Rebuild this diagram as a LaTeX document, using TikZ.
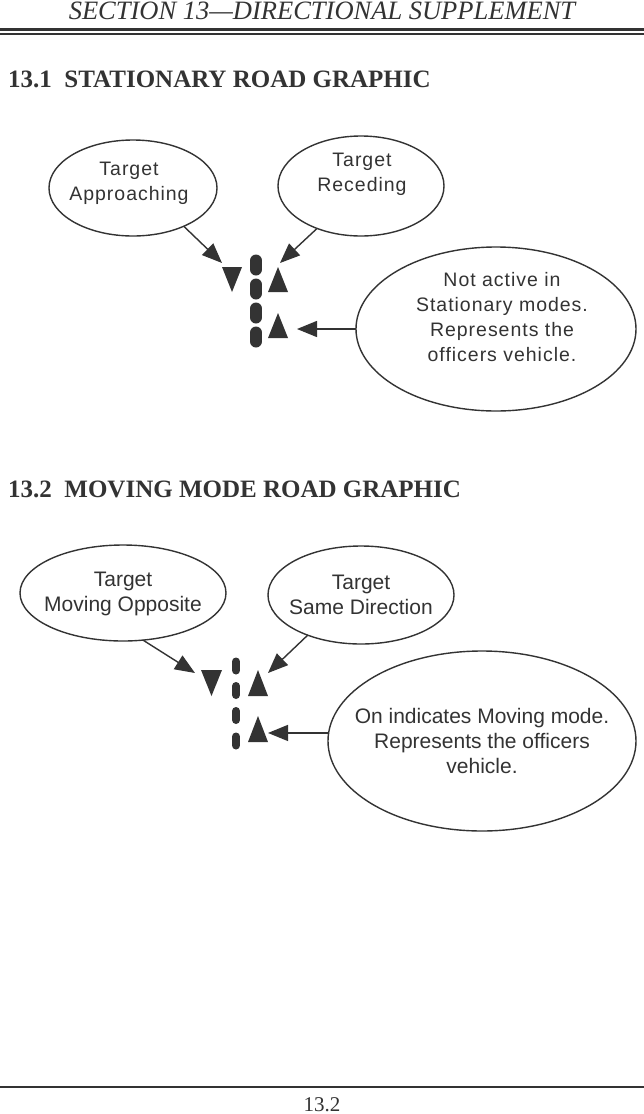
\documentclass[tikz,border=0pt]{standalone}
\usepackage{fontspec}
\setmainfont{Liberation Serif}
\newfontfamily\arialA[LetterSpace=5]{Liberation Sans}
\newfontfamily\arialB{Liberation Sans}
\usetikzlibrary{shapes.geometric,arrows.meta}
\definecolor{ink}{HTML}{333333}
\begin{document}
\begin{tikzpicture}[x=1pt,y=-1pt,
  ell/.style={draw=ink,line width=1.4pt,ellipse,inner sep=0pt,outer sep=0pt},
  conn/.style={draw=ink,line width=1.4pt,-{Triangle[length=20pt,width=16pt]}},
  tri/.style={fill=ink},
  txtA/.style={text=ink,align=center,font=\arialA\fontsize{19.5}{25}\selectfont},
  txtB/.style={text=ink,align=center,font=\arialB\fontsize{21}{25}\selectfont},
  head/.style={text=ink,anchor=base west,inner sep=0pt,font=\bfseries\fontsize{25}{28}\selectfont}]
\useasboundingbox (0,0) rectangle (644,1114);
\fill[white] (0,0) rectangle (644,1114);

% header
\node[text=ink,anchor=base,inner sep=0pt,font=\itshape\fontsize{26.5}{30}\selectfont] (hdr) at (322,19.5) {SECTION 13---DIRECTIONAL SUPPLEMENT};
\draw[ink,line width=2.2pt] (0,29.5) -- (644,29.5);
\draw[ink,line width=2pt] (0,34) -- (644,34);

% section 13.1
\node[head] (h1) at (8,87) {13.1\ \ STATIONARY ROAD GRAPHIC};

\node[ell,minimum width=168,minimum height=96] (e1) at (133,188) {};
\node[ell,minimum width=166,minimum height=100] (e2) at (361,186) {};
\node[ell,minimum width=280,minimum height=164] (e3) at (496,329) {};
\node[txtA] (t1) at (129,183) {Target\\Approaching};
\node[txtA] (t2) at (362,174) {Target\\Receding};
\node[txtA] (t3) at (502,317) {Not active in\\Stationary modes.\\Represents the\\officers vehicle.};

\coordinate (p1) at (222,263);
\coordinate (p2) at (280,263);
\coordinate (p3) at (297,329);
\draw[conn] (e1.-37.6) -- (p1);
\draw[conn] (e2.-136.3) -- (p2);
\draw[conn] (e3.180) -- (p3);

\fill[tri] (222,267) -- (242,267) -- (232,292) -- cycle;
\fill[tri] (268,292) -- (288,292) -- (278,267) -- cycle;
\fill[tri] (268,338) -- (288,338) -- (278,313) -- cycle;
\foreach \c in {265,289,313,337}
  \draw[ink,line width=12pt,line cap=round] (256,\c-4.5) -- (256,\c+4.5);

% section 13.2
\node[head] (h2) at (8,497) {13.2\ \ MOVING MODE ROAD GRAPHIC};

\node[ell,minimum width=206,minimum height=96] (f1) at (123,593) {};
\node[ell,minimum width=186,minimum height=98] (f2) at (361,595) {};
\node[ell,minimum width=308,minimum height=180] (f3) at (482,741) {};
\node[txtB] (u1) at (123,594) {Target\\Moving Opposite};
\node[txtB] (u2) at (361,594.5) {Target\\Same Direction};
\node[txtB] (u3) at (482,741) {On indicates Moving mode.\\Represents the officers\\vehicle.};

\coordinate (q1) at (195,673);
\coordinate (q2) at (268,673);
\coordinate (q3) at (268,735.6);
\draw[conn] (f1.-67) -- (q1);
\draw[conn] (f2.-143) -- (q2);
\draw[conn] (f3.177.8) -- (f3.177.8 -| q3);

\fill[tri] (201,670) -- (222,670) -- (211.5,696) -- cycle;
\fill[tri] (248,696) -- (268,696) -- (258,670) -- cycle;
\fill[tri] (248,742) -- (268,742) -- (258,716) -- cycle;
\foreach \c in {666,690.5,715.5,741}
  \draw[ink,line width=8pt,line cap=round] (236,\c-4.5) -- (236,\c+4.5);

% footer
\draw[ink,line width=1.2pt] (0,1087) -- (644,1087);
\node[text=ink,anchor=base,inner sep=0pt,font=\fontsize{21}{24}\selectfont] (pg) at (322,1111) {13.2};
\end{tikzpicture}
\end{document}
